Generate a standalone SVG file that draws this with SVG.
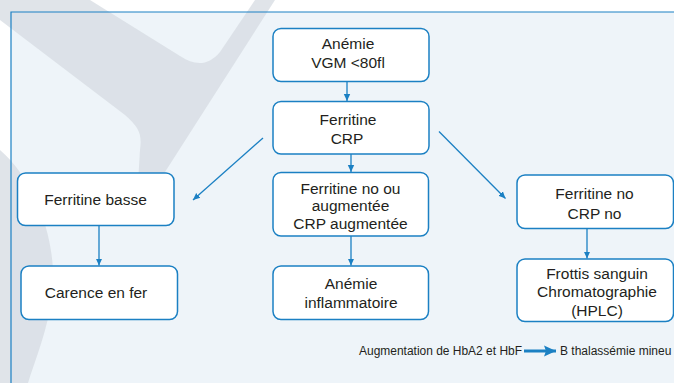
<svg xmlns="http://www.w3.org/2000/svg" width="674" height="383" viewBox="0 0 674 383">
  <style>
    .box { fill: #ffffff; stroke: #1b80c3; stroke-width: 1.5; }
    .lbl { font-family: "Liberation Sans", Arial, sans-serif; font-size: 15.5px; fill: #231f20; text-anchor: middle; }
    .note { font-family: "Liberation Sans", Arial, sans-serif; font-size: 12px; fill: #231f20; }
    .conn { stroke: #1b80c3; stroke-width: 1.3; fill: none; }
    .wm { fill: #d6dbe1; opacity: 0.75; }
  </style>
  <defs>
    <marker id="ah" markerWidth="8" markerHeight="8" refX="7" refY="4" orient="auto" markerUnits="userSpaceOnUse">
      <path d="M0,0.8 L7,4 L0,7.2 Z" fill="#1b80c3"/>
    </marker>
    <marker id="ahBig" markerWidth="13" markerHeight="13" refX="12" refY="6.5" orient="auto" markerUnits="userSpaceOnUse">
      <path d="M0,1 L12,6.5 L0,12 L2,6.5 Z" fill="#1b80c3"/>
    </marker>
  </defs>

  <rect x="0" y="0" width="674" height="383" fill="#ffffff"/>
  <rect x="11" y="12" width="663" height="371" fill="#eef4f9"/>

  <g id="watermark">
    <path class="wm" d="M0,0 L90,0 L180,56 C195,66 208,66 220,52 L255,0 L275,0 L165,172 L152,200 L137,200 L140,150 C142,135 140,128 125,115 L0,20 Z"/>
    <path class="wm" d="M0,150 C40,185 58,250 52,295 C48,330 35,360 28,383 L0,383 Z"/>
  </g>

  <path d="M11,383 L11,12 L674,12" fill="none" stroke="#1b80c3" stroke-width="1.2"/>

  <g id="connectors">
    <line class="conn" x1="347" y1="82" x2="347" y2="101" marker-end="url(#ah)"/>
    <line class="conn" x1="263" y1="138" x2="193" y2="200" marker-end="url(#ah)"/>
    <line class="conn" x1="351" y1="154" x2="351" y2="172" marker-end="url(#ah)"/>
    <line class="conn" x1="439" y1="131.5" x2="505.5" y2="198.5" marker-end="url(#ah)"/>
    <line class="conn" x1="99" y1="226" x2="99" y2="265.5" marker-end="url(#ah)"/>
    <line class="conn" x1="351" y1="236" x2="351" y2="265.5" marker-end="url(#ah)"/>
    <line class="conn" x1="587" y1="228.5" x2="587" y2="258.5" marker-end="url(#ah)"/>
    <line x1="524" y1="351" x2="556" y2="351" stroke="#1b80c3" stroke-width="3" marker-end="url(#ahBig)"/>
  </g>

  <g id="n-anemie">
    <rect class="box" x="273" y="28.5" width="156" height="53" rx="8"/>
    <text class="lbl" x="348" y="48.5">Anémie</text>
    <text class="lbl" x="348" y="67.5">VGM &lt;80fl</text>
  </g>

  <g id="n-ferritine-crp">
    <rect class="box" x="273" y="101.5" width="156" height="52.5" rx="8"/>
    <text class="lbl" x="348" y="124.5">Ferritine</text>
    <text class="lbl" x="347" y="144">CRP</text>
  </g>

  <g id="n-ferritine-basse">
    <rect class="box" x="17.5" y="173" width="156.5" height="52.5" rx="8"/>
    <text class="lbl" x="95.5" y="204.5">Ferritine basse</text>
  </g>

  <g id="n-ferritine-aug">
    <rect class="box" x="273" y="172.5" width="155.5" height="63.5" rx="8"/>
    <text class="lbl" x="350.5" y="193.5">Ferritine no ou</text>
    <text class="lbl" x="350.5" y="211">augmentée</text>
    <text class="lbl" x="350.5" y="228.5">CRP augmentée</text>
  </g>

  <g id="n-ferritine-no">
    <rect class="box" x="517" y="175" width="156.5" height="53.5" rx="8"/>
    <text class="lbl" x="594.5" y="198.5">Ferritine no</text>
    <text class="lbl" x="594.5" y="218.5">CRP no</text>
  </g>

  <g id="n-carence">
    <rect class="box" x="21" y="266" width="156.5" height="53.5" rx="8"/>
    <text class="lbl" x="96" y="298">Carence en fer</text>
  </g>

  <g id="n-inflammatoire">
    <rect class="box" x="273" y="266" width="155.5" height="53.5" rx="8"/>
    <text class="lbl" x="351" y="289">Anémie</text>
    <text class="lbl" x="351" y="308">inflammatoire</text>
  </g>

  <g id="n-frottis">
    <rect class="box" x="517" y="259" width="156.5" height="62.5" rx="8"/>
    <text class="lbl" x="597" y="278.5">Frottis sanguin</text>
    <text class="lbl" x="597" y="297">Chromatographie</text>
    <text class="lbl" x="597" y="315.5">(HPLC)</text>
  </g>

  <g id="note">
    <text class="note" x="359" y="355" textLength="163" lengthAdjust="spacingAndGlyphs">Augmentation de HbA2 et HbF</text>
    <text class="note" x="560" y="355">B thalassémie mineu</text>
  </g>
</svg>
